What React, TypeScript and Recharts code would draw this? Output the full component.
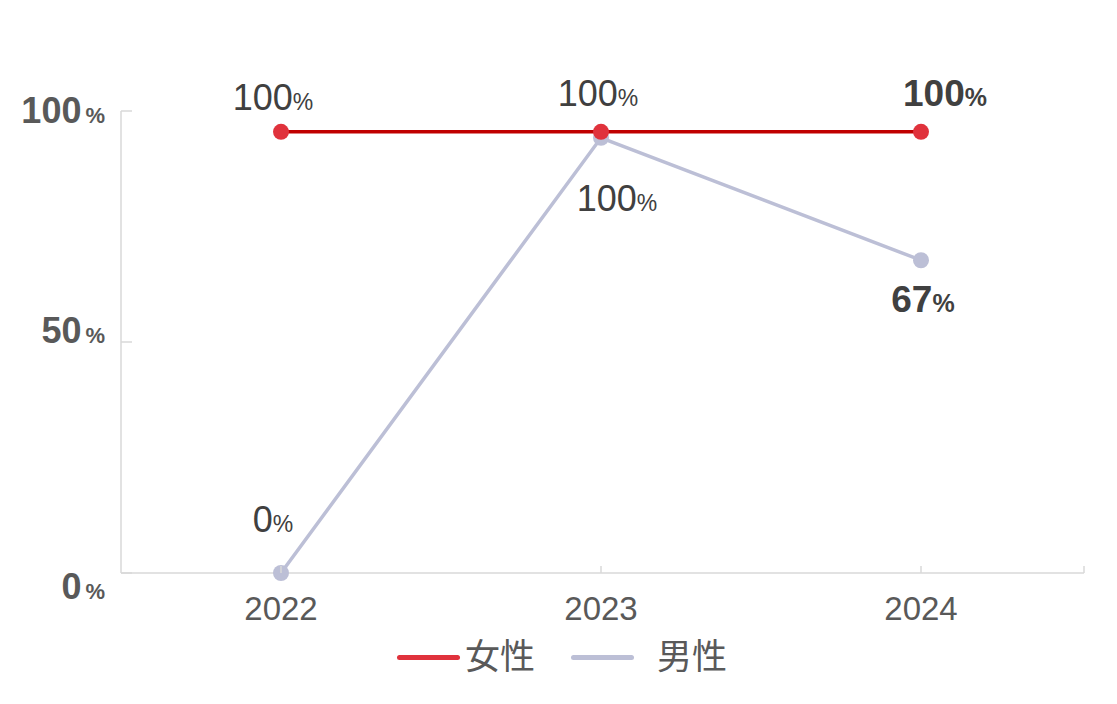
import React from "react";
import { LineChart, Line, XAxis, YAxis, LabelList, Legend } from "recharts";

const years = ["2022", "2023", "2024"];
const femaleValues = [95.5, 95.5, 95.5];
const maleValues = [0, 94.2, 67.7];
const femaleLabels = ["100", "100", "100"];
const maleLabels = ["0", "100", "67"];
const yTicks = [0, 50, 100];
const yTickLabels = ["0", "50", "100"];
const seriesNames = ["女性", "男性"];

const data = years.map((y, i) => ({ year: y, female: femaleValues[i], male: maleValues[i] }));

const FONT = "'Liberation Sans', Arial, 'Noto Sans CJK JP', sans-serif";
const RED_LINE = "#c00000";
const RED_DOT = "#e0323c";
const GREY_LINE = "#bcbfd6";
const AXIS = "#d9d9d9";

const femaleLabelStyle = [
  { dx: -8, dy: -22, bold: false },
  { dx: -3, dy: -26, bold: false },
  { dx: 24, dy: -26, bold: true },
];
const maleLabelStyle = [
  { dx: -8, dy: -41, bold: false },
  { dx: 16, dy: 73, bold: false },
  { dx: 2, dy: 52, bold: true },
];
const yLabelOffset: Record<number, number> = { 0: 26, 50: 1, 100: 12 };

const makeLabel = (texts: string[], styles: { dx: number; dy: number; bold: boolean }[]) => (props: any) => {
  const { x, y, index } = props;
  const s = styles[index];
  return (
    <text
      x={x + s.dx}
      y={y + s.dy}
      textAnchor="middle"
      fill="#404040"
      fontFamily={FONT}
      fontWeight={s.bold ? "bold" : "normal"}
    >
      <tspan fontSize={s.bold ? 37 : 36}>{texts[index]}</tspan>
      <tspan fontSize={s.bold ? 25 : 23}>%</tspan>
    </text>
  );
};

const YTick = (props: any) => {
  const { y, payload } = props;
  const idx = yTicks.indexOf(payload.value);
  return (
    <g>
      <line x1={121} x2={132} y1={y} y2={y} stroke={AXIS} strokeWidth={1.5} />
      <text
        x={105}
        y={y + (yLabelOffset[payload.value] ?? 0)}
        textAnchor="end"
        fill="#595959"
        fontFamily={FONT}
        fontWeight="bold"
      >
        <tspan fontSize={36}>{yTickLabels[idx]}</tspan>
        <tspan fontSize={22} dx={4}>%</tspan>
      </text>
    </g>
  );
};

const XTick = (props: any) => {
  const { x, payload, index } = props;
  const y = 573;
  return (
    <g>
      <line x1={x} x2={x} y1={y} y2={y - 7} stroke={AXIS} strokeWidth={1.5} />
      {index === years.length - 1 ? (
        <line x1={1084} x2={1084} y1={y} y2={y - 7} stroke={AXIS} strokeWidth={1.5} />
      ) : null}
      <text x={x} y={y + 47} textAnchor="middle" fill="#595959" fontFamily={FONT} fontSize={33}>
        {payload.value}
      </text>
    </g>
  );
};

const legendColors = [RED_DOT, GREY_LINE];
const legendTextGap = [5, 23];

const LegendContent = () => (
  <div style={{ display: "flex", alignItems: "center", height: 44, fontFamily: FONT }}>
    {seriesNames.map((n, i) => (
      <div key={n} style={{ display: "flex", alignItems: "center", marginRight: 36 }}>
        <div style={{ width: 63, height: 5, borderRadius: 3, background: legendColors[i] }} />
        <span style={{ marginLeft: legendTextGap[i], fontSize: 35, color: "#595959", lineHeight: "44px" }}>{n}</span>
      </div>
    ))}
  </div>
);

export default function App() {
  return (
    <div style={{ position: "absolute", left: 0, top: 0, width: 1117, height: 704, background: "#fff" }}>
      <LineChart
        width={1117}
        height={704}
        data={data}
        margin={{ top: 111, right: 33, left: 120, bottom: 130 }}
      >
        <XAxis
          dataKey="year"
          height={1}
          padding={{ left: 160, right: 163 }}
          axisLine={{ stroke: AXIS, strokeWidth: 1.5 }}
          tickLine={false}
          tickSize={0}
          tickMargin={0}
          tick={<XTick />}
          interval={0}
        />
        <YAxis
          width={1}
          domain={[0, 100]}
          ticks={yTicks}
          axisLine={{ stroke: AXIS, strokeWidth: 1.5 }}
          tickLine={false}
          tickSize={0}
          tickMargin={0}
          tick={<YTick />}
          interval={0}
        />
        <Legend
          layout="horizontal"
          verticalAlign="middle"
          content={<LegendContent />}
          wrapperStyle={{ position: "absolute", left: 397, top: 635, width: "auto", height: 44 }}
        />
        <Line
          dataKey="male"
          name={seriesNames[1]}
          stroke={GREY_LINE}
          strokeWidth={3.5}
          dot={{ r: 8, fill: GREY_LINE, stroke: "none" }}
          activeDot={false}
          isAnimationActive={false}
        >
          <LabelList dataKey="male" content={makeLabel(maleLabels, maleLabelStyle)} />
        </Line>
        <Line
          dataKey="female"
          name={seriesNames[0]}
          stroke={RED_LINE}
          strokeWidth={3.5}
          dot={{ r: 8, fill: RED_DOT, stroke: "none" }}
          activeDot={false}
          isAnimationActive={false}
        >
          <LabelList dataKey="female" content={makeLabel(femaleLabels, femaleLabelStyle)} />
        </Line>
      </LineChart>
    </div>
  );
}
